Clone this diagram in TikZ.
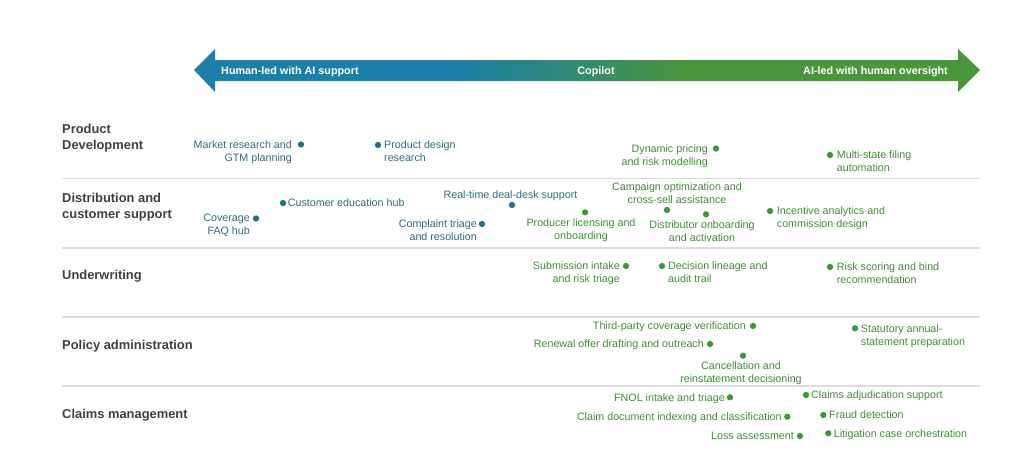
\documentclass[tikz,border=0pt]{standalone}
\usepackage{fontspec}
\setmainfont{Liberation Sans}
\usetikzlibrary{positioning}
\definecolor{arrblue}{HTML}{1B7FA8}
\definecolor{arrgreen}{HTML}{4A963A}
\definecolor{hdrgray}{HTML}{3F3F3F}
\definecolor{txtblue}{HTML}{2F6B7E}
\definecolor{dotblue}{HTML}{1F6F8B}
\definecolor{txtgreen}{HTML}{3E8E33}
\definecolor{dotgreen}{HTML}{3A9A32}
\definecolor{sepgray}{HTML}{DCDCDC}
\tikzset{
  hdr/.style = {inner sep=0, align=left, text=hdrgray,
    font=\fontsize{12.9}{16}\selectfont\bfseries},
  arrtxt/.style = {inner sep=0, text=white,
    font=\fontsize{10.8}{13}\selectfont\bfseries},
  sep/.style = {draw=sepgray, line width=1.4pt},
  bdot/.style = {circle, fill=dotblue, inner sep=0, minimum size=6.3pt},
  gdot/.style = {circle, fill=dotgreen, inner sep=0, minimum size=6.3pt},
  btxt/.style = {inner sep=0, text=txtblue, font=\fontsize{10.7}{13}\selectfont},
  gtxt/.style = {inner sep=0, text=txtgreen, font=\fontsize{10.7}{13}\selectfont},
  lblR/.style = {anchor=north west, align=left, xshift=#1, yshift=4.2pt},
  lblR/.default = 6pt,
  lblL/.style = {anchor=north east, align=right, xshift=-#1, yshift=4.2pt},
  lblL/.default = 6pt,
  lblB/.style = {align=center, below=2.9pt of #1},
  lblA/.style = {align=center, above=0.9pt of #1}
}

\begin{document}
\begin{tikzpicture}[x=1pt,y=-1pt]
  \useasboundingbox (0,0) rectangle (1024,466);

  % scale arrow
  \begin{scope}
    \clip (194,70) -- (215,49) -- (215,60) -- (958,60) -- (958,49) -- (980,70)
      -- (958,92) -- (958,81) -- (215,81) -- (215,92) -- cycle;
    \fill[arrblue] (190,45) rectangle (458,95);
    \shade[left color=arrblue, right color=arrgreen] (457,45) rectangle (694,95);
    \fill[arrgreen] (693,45) rectangle (985,95);
  \end{scope}
  \node[arrtxt, anchor=base west] (hled) at (221,74.5) {Human-led with AI support};
  \node[arrtxt, anchor=base] (copi) at (596,74.5) {Copilot};
  \node[arrtxt, anchor=base east] (aled) at (948,74.5) {AI-led with human oversight};

  % rows
  \foreach \y in {178.5,248,317,386}
    \draw[sep] (62,\y) -- (980,\y);
  \node[hdr, anchor=north west] (pd) at (62,124.4) {Product\\Development};
  \node[hdr, anchor=north west] (dcs) at (62,193.4) {Distribution and\\customer support};
  \node[hdr, anchor=base west] (uw) at (62,279.6) {Underwriting};
  \node[hdr, anchor=base west] (pa) at (62,349) {Policy administration};
  \node[hdr, anchor=base west] (cm) at (62,418) {Claims management};

  % dots
  \foreach \n/\x/\y in {mkt/301/144.5, pdr/378/145, cov/256/218.5, ceh/283/203,
      cmp/482/224, rtd/512/205}
    \node[bdot] (\n) at (\x,\y) {};
  \foreach \n/\x/\y in {dyn/716/148.5, msf/830/155, prl/585/212.3, cam/667/210,
      dob/706/214.3, inc/770/211, sub/626/266, dec/662/266, rsk/830/267,
      tpc/753/326, ren/710/344, sta/855/328.3, can/743/355.7,
      fnol/730/397.3, cdi/787.3/416.7, loss/800/436,
      adj/806/395, frd/823.3/415, lit/828.3/433.3}
    \node[gdot] (\n) at (\x,\y) {};

  % product development
  \node[btxt, lblL=9pt] (mkt-l) at (mkt) {Market research and\\GTM planning};
  \node[btxt, lblR] (pdr-l) at (pdr) {Product design\\research};
  \node[gtxt, lblL=8pt] (dyn-l) at (dyn) {Dynamic pricing\\and risk modelling};
  \node[gtxt, lblR=6.7pt] (msf-l) at (msf) {Multi-state filing\\automation};

  % distribution and customer support
  \node[btxt, lblL] (cov-l) at (cov) {Coverage\\FAQ hub};
  \node[btxt, lblR=4.7pt] (ceh-l) at (ceh) {Customer education hub};
  \node[btxt, lblL=5pt] (cmp-l) at (cmp) {Complaint triage\\and resolution};
  \node[btxt, lblA=rtd, xshift=-1.5pt] (rtd-l) {Real-time deal-desk support};
  \node[gtxt, lblB=prl, xshift=-4pt] (prl-l) {Producer licensing and\\onboarding};
  \node[gtxt, align=center, above=3.1pt of cam, xshift=10pt] (cam-l) {Campaign optimization and\\cross-sell assistance};
  \node[gtxt, lblB=dob, xshift=-4pt] (dob-l) {Distributor onboarding\\and activation};
  \node[gtxt, lblR=6.7pt] (inc-l) at (inc) {Incentive analytics and\\commission design};

  % underwriting
  \node[gtxt, lblL] (sub-l) at (sub) {Submission intake\\and risk triage};
  \node[gtxt, lblR] (dec-l) at (dec) {Decision lineage and\\audit trail};
  \node[gtxt, lblR=6.7pt] (rsk-l) at (rsk) {Risk scoring and bind\\recommendation};

  % policy administration
  \node[gtxt, lblL=7pt] (tpc-l) at (tpc) {Third-party coverage verification};
  \node[gtxt, lblL] (ren-l) at (ren) {Renewal offer drafting and outreach};
  \node[gtxt, lblR=5.7pt] (sta-l) at (sta) {Statutory annual-\\statement preparation};
  \node[gtxt, lblB=can, xshift=-2pt] (can-l) {Cancellation and\\reinstatement decisioning};

  % claims management
  \node[gtxt, lblL=5pt] (fnol-l) at (fnol) {FNOL intake and triage};
  \node[gtxt, lblL=5.5pt] (cdi-l) at (cdi) {Claim document indexing and classification};
  \node[gtxt, lblL] (loss-l) at (loss) {Loss assessment};
  \node[gtxt, lblR=5pt] (adj-l) at (adj) {Claims adjudication support};
  \node[gtxt, lblR=5.7pt] (frd-l) at (frd) {Fraud detection};
  \node[gtxt, lblR=5.4pt] (lit-l) at (lit) {Litigation case orchestration};
\end{tikzpicture}
\end{document}
